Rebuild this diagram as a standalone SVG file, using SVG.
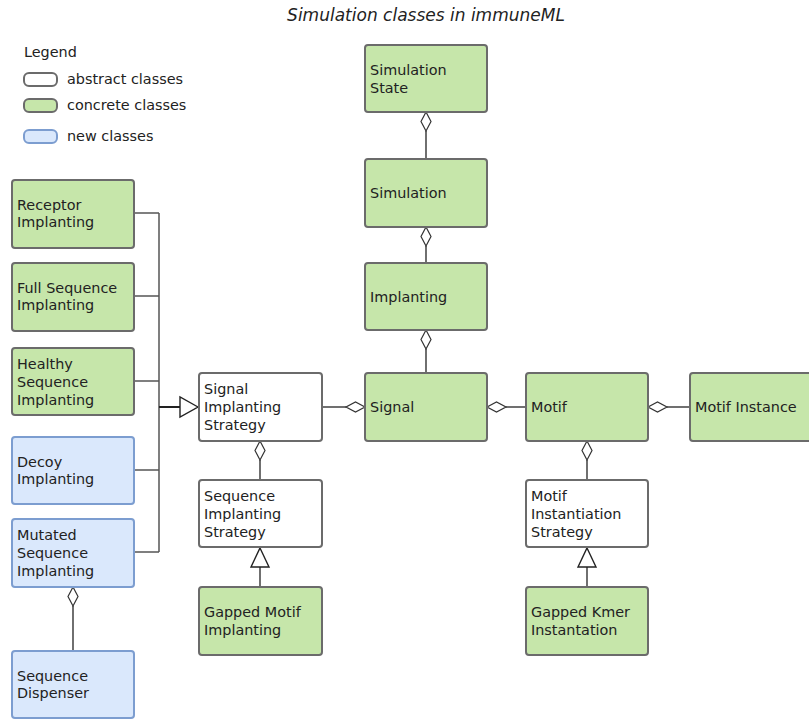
<svg xmlns="http://www.w3.org/2000/svg" width="809" height="720" viewBox="0 0 809 720">
  <style>
    text { font-family: "DejaVu Sans", Verdana, sans-serif; font-size: 14.4px; fill: #222; }
    .title { font-style: italic; text-anchor: middle; font-size: 17px; }
    .box { stroke-width: 2; }
    .abstract { fill: #ffffff; stroke: #6b6b6b; }
    .concrete { fill: #c6e6aa; stroke: #6b6b6b; }
    .new { fill: #dae8fc; stroke: #7c9dd0; }
    .wire { fill: none; stroke: #222; stroke-width: 1.3; }
    .bus { fill: none; stroke: #555; stroke-width: 1.5; }
    .dia { fill: #fff; stroke: #333; stroke-width: 1.2; }
    .tri { fill: #fff; stroke: #222; stroke-width: 1.4; }
  </style>

  <text class="title" x="426" y="21">Simulation classes in immuneML</text>

  <!-- legend -->
  <g id="legend">
    <text x="24" y="57">Legend</text>
    <rect class="box abstract" x="24" y="73" width="33" height="13" rx="5"/>
    <text x="67" y="84">abstract classes</text>
    <rect class="box concrete" x="24" y="99" width="33" height="13" rx="5"/>
    <text x="67" y="110">concrete classes</text>
    <rect class="box new" x="24" y="130" width="33" height="13" rx="5"/>
    <text x="67" y="141">new classes</text>
  </g>

  <!-- connectors -->
  <g id="connectors">
    <!-- aggregation chain on the central column -->
    <line class="wire" x1="426" y1="131" x2="426" y2="159"/>
    <polygon class="dia" points="426,112 431,121.5 426,131 421,121.5"/>
    <line class="wire" x1="426" y1="246" x2="426" y2="263"/>
    <polygon class="dia" points="426,227 431,236.5 426,246 421,236.5"/>
    <line class="wire" x1="426" y1="349" x2="426" y2="373"/>
    <polygon class="dia" points="426,330 431,339.5 426,349 421,339.5"/>

    <!-- horizontal row -->
    <line class="wire" x1="317" y1="407" x2="346" y2="407"/>
    <polygon class="dia" points="365,407 355.5,402 346,407 355.5,412"/>
    <line class="wire" x1="506" y1="407" x2="531" y2="407"/>
    <polygon class="dia" points="487,407 496.5,402 506,407 496.5,412"/>
    <line class="wire" x1="667" y1="407" x2="695" y2="407"/>
    <polygon class="dia" points="648,407 657.5,402 667,407 657.5,412"/>

    <!-- strategies -->
    <line class="wire" x1="260" y1="460" x2="260" y2="480"/>
    <polygon class="dia" points="260,441 265,450.5 260,460 255,450.5"/>
    <line class="wire" x1="587" y1="460" x2="587" y2="480"/>
    <polygon class="dia" points="587,441 592,450.5 587,460 582,450.5"/>

    <!-- generalisations -->
    <line class="wire" x1="260" y1="567" x2="260" y2="587"/>
    <polygon class="tri" points="260,548 269,567 251,567"/>
    <line class="wire" x1="587" y1="567" x2="587" y2="587"/>
    <polygon class="tri" points="587,548 596,567 578,567"/>

    <!-- dispenser -->
    <line class="wire" x1="73" y1="606" x2="73" y2="651"/>
    <polygon class="dia" points="73,587 78,596.5 73,606 68,596.5"/>

    <!-- implementations bus -->
    <path class="bus" d="M134,213 H159 M134,296 H159 M134,381 H159 M134,470 H159 M134,552 H159 M159,213 V552"/>
    <line class="wire" x1="159" y1="407" x2="180" y2="407" style="stroke-width:2"/>
    <polygon class="tri" points="198,407 180,397 180,417"/>
  </g>

  <!-- central column -->
  <g id="simulation-state">
    <rect class="box concrete" x="365" y="45" width="122" height="67" rx="3"/>
    <text x="370" y="75">Simulation</text>
    <text x="370" y="93">State</text>
  </g>
  <g id="simulation">
    <rect class="box concrete" x="365" y="159" width="122" height="68" rx="3"/>
    <text x="370" y="198">Simulation</text>
  </g>
  <g id="implanting">
    <rect class="box concrete" x="365" y="263" width="122" height="67" rx="3"/>
    <text x="370" y="302">Implanting</text>
  </g>
  <g id="signal">
    <rect class="box concrete" x="365" y="373" width="122" height="68" rx="3"/>
    <text x="370" y="412">Signal</text>
  </g>
  <g id="motif">
    <rect class="box concrete" x="526" y="373" width="122" height="68" rx="3"/>
    <text x="531" y="412">Motif</text>
  </g>
  <g id="motif-instance">
    <rect class="box concrete" x="690" y="373" width="122" height="68" rx="3"/>
    <text x="695" y="412">Motif Instance</text>
  </g>

  <!-- strategies -->
  <g id="signal-implanting-strategy">
    <rect class="box abstract" x="199" y="373" width="123" height="68" rx="3"/>
    <text x="204" y="394">Signal</text>
    <text x="204" y="412">Implanting</text>
    <text x="204" y="430">Strategy</text>
  </g>
  <g id="sequence-implanting-strategy">
    <rect class="box abstract" x="199" y="480" width="123" height="67" rx="3"/>
    <text x="204" y="501">Sequence</text>
    <text x="204" y="519">Implanting</text>
    <text x="204" y="537">Strategy</text>
  </g>
  <g id="gapped-motif-implanting">
    <rect class="box concrete" x="199" y="587" width="123" height="68" rx="3"/>
    <text x="204" y="617">Gapped Motif</text>
    <text x="204" y="635">Implanting</text>
  </g>
  <g id="motif-instantiation-strategy">
    <rect class="box abstract" x="526" y="480" width="122" height="67" rx="3"/>
    <text x="531" y="501">Motif</text>
    <text x="531" y="519">Instantiation</text>
    <text x="531" y="537">Strategy</text>
  </g>
  <g id="gapped-kmer-instantation">
    <rect class="box concrete" x="526" y="587" width="122" height="68" rx="3"/>
    <text x="531" y="617">Gapped Kmer</text>
    <text x="531" y="635">Instantation</text>
  </g>

  <!-- implementations -->
  <g id="receptor-implanting">
    <rect class="box concrete" x="12" y="180" width="122" height="68" rx="3"/>
    <text x="17" y="210">Receptor</text>
    <text x="17" y="227">Implanting</text>
  </g>
  <g id="full-sequence-implanting">
    <rect class="box concrete" x="12" y="263" width="122" height="68" rx="3"/>
    <text x="17" y="293">Full Sequence</text>
    <text x="17" y="310">Implanting</text>
  </g>
  <g id="healthy-sequence-implanting">
    <rect class="box concrete" x="12" y="348" width="122" height="67" rx="3"/>
    <text x="17" y="369">Healthy</text>
    <text x="17" y="387">Sequence</text>
    <text x="17" y="405">Implanting</text>
  </g>
  <g id="decoy-implanting">
    <rect class="box new" x="12" y="437" width="122" height="67" rx="3"/>
    <text x="17" y="467">Decoy</text>
    <text x="17" y="484">Implanting</text>
  </g>
  <g id="mutated-sequence-implanting">
    <rect class="box new" x="12" y="519" width="122" height="68" rx="3"/>
    <text x="17" y="540">Mutated</text>
    <text x="17" y="558">Sequence</text>
    <text x="17" y="576">Implanting</text>
  </g>
  <g id="sequence-dispenser">
    <rect class="box new" x="12" y="651" width="122" height="67" rx="3"/>
    <text x="17" y="681">Sequence</text>
    <text x="17" y="698">Dispenser</text>
  </g>
</svg>
